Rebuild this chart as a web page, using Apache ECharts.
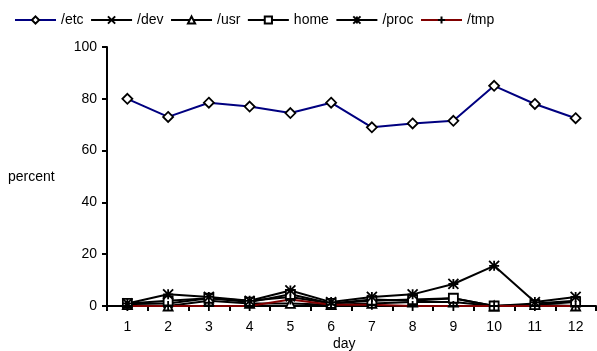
<!DOCTYPE html>
<html>
<head>
<meta charset="utf-8">
<script src="https://cdn.jsdelivr.net/npm/echarts@6/dist/echarts.min.js"></script>
<style>html,body{margin:0;padding:0;background:#fff;}#c{width:597px;height:351px;}</style>
</head>
<body>
<div id="c"></div>
<script>
var days = ['1','2','3','4','5','6','7','8','9','10','11','12'];
var etc  = [80, 73, 78.5, 77, 74.5, 78.5, 69, 70.5, 71.5, 85, 78, 72.5];
var dev  = [1, 1, 3, 2, 3.5, 1, 2.5, 2, 3, 0, 1, 2];
var usr  = [0.5, 0, 2, 1, 1, 0.5, 1, 1.5, 1.5, 0, 0.5, 0];
var home = [1, 2, 3, 1.5, 4.5, 1, 2, 2.5, 3, 0, 0.5, 1.5];
var proc = [1, 4.5, 3.5, 2, 6, 1.5, 3.5, 4.5, 8.5, 15.5, 1.5, 3.5];
var tmp  = [0, 0, 0, 0, 2.5, 0.5, 0.5, 0, 0, 0, 0, 0];
var yTicks = [0, 20, 40, 60, 80, 100];

var FONT = 'Liberation Sans, Arial, sans-serif';
var xSym = 'path://M0,0L10,10M10,0L0,10';
var plusSym = 'path://M5,0L5,10M0,5L10,5';
var starSym = 'path://M0,0L10,10M10,0L0,10M5,0L5,10M0,5L10,5';

function mk(name, data, lineColor, symbol, size, fill) {
  return {
    name: name, type: 'line', data: data,
    symbol: symbol, symbolSize: size, showAllSymbol: true,
    lineStyle: {color: lineColor, width: 2},
    itemStyle: {color: fill, borderColor: '#000', borderWidth: 1.8},
    emphasis: {disabled: true},
    animation: false
  };
}

var chart = echarts.init(document.getElementById('c'));
chart.setOption({
  animation: false,
  legend: {
    left: 9, top: 8, itemWidth: 41, itemHeight: 9, itemGap: 6.5,
    textStyle: {fontFamily: FONT, fontSize: 14, color: '#000'},
    data: ['/etc','/dev','/usr','home','/proc','/tmp']
  },
  grid: {left: 107, right: 1, top: 47, bottom: 45},
  xAxis: {
    type: 'category', data: days, boundaryGap: true,
    axisLine: {lineStyle: {color: '#000', width: 2}},
    axisTick: {show: true, interval: 0, length: 5, lineStyle: {color: '#000', width: 2}},
    axisLabel: {interval: 0, margin: 14, fontFamily: FONT, fontSize: 14, color: '#000'},
    splitLine: {show: false}
  },
  yAxis: {
    type: 'value', min: yTicks[0], max: yTicks[yTicks.length-1], interval: 20,
    axisLine: {show: true, lineStyle: {color: '#000', width: 2}},
    axisTick: {show: true, length: 5, lineStyle: {color: '#000', width: 2}},
    axisLabel: {margin: 10, fontFamily: FONT, fontSize: 14, color: '#000'},
    splitLine: {show: false}
  },
  graphic: [
    {type: 'text', left: 8, top: 170, style: {text: 'percent', font: '14px ' + FONT, fill: '#000'}},
    {type: 'text', left: 333, top: 337, style: {text: 'day', font: '14px ' + FONT, fill: '#000'}}
  ],
  series: [
    mk('/etc', etc, '#000080', 'diamond', 10, '#fff'),
    mk('/dev', dev, '#000', xSym, 9, '#000'),
    mk('/usr', usr, '#000', 'triangle', 9, '#fff'),
    mk('home', home, '#000', 'rect', 9, '#fff'),
    mk('/proc', proc, '#000', starSym, 10, '#000'),
    mk('/tmp', tmp, '#800000', plusSym, 10, '#000')
  ]
});
</script>
</body>
</html>
